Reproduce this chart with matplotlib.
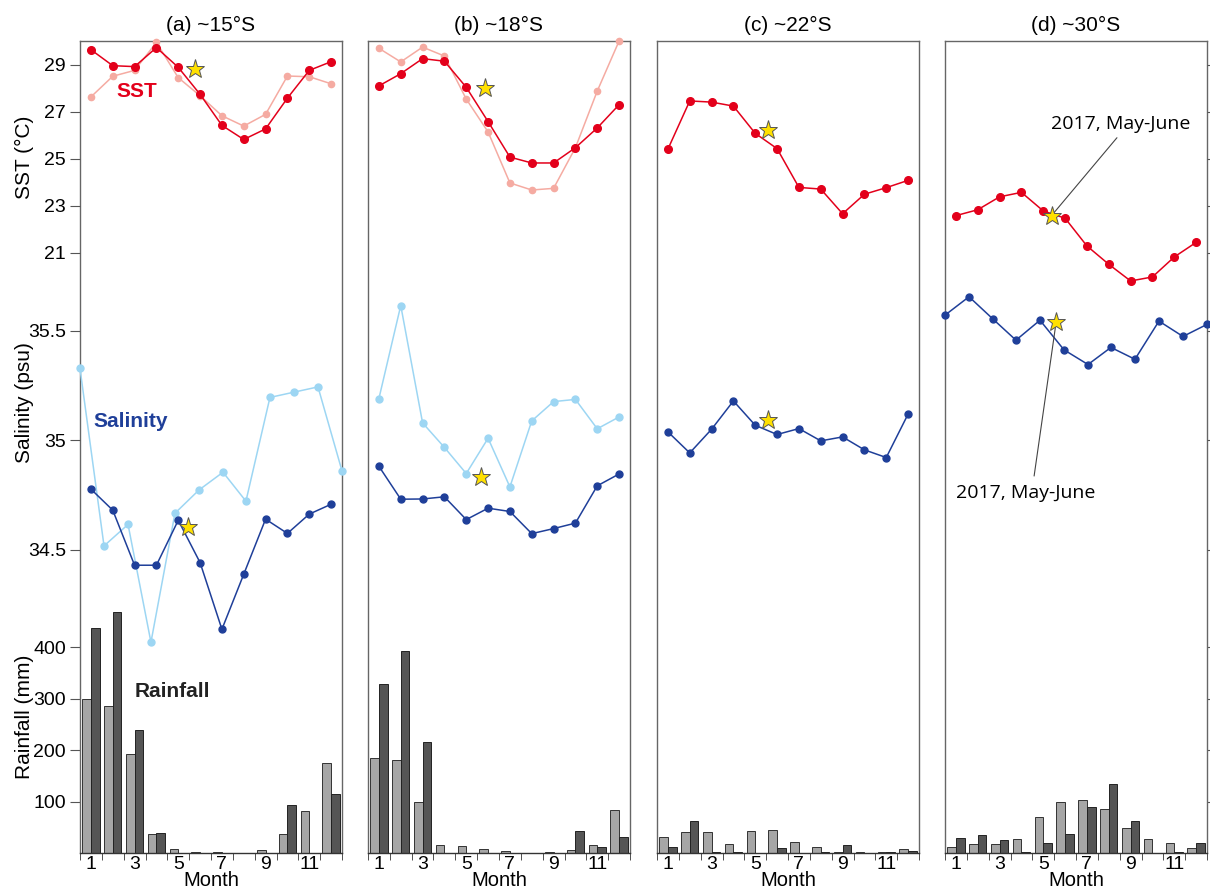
import numpy as np
import matplotlib.pyplot as plt

plt.rcParams['font.family'] = ['Liberation Sans', 'DejaVu Sans']

months = np.arange(1, 13)
# light salinity curves in (a) and (d) are stretched across the whole panel
months_wide = [0.5, 1.6, 2.7, 3.75, 4.85, 5.95, 7.05, 8.1, 9.2, 10.3, 11.4, 12.5]
titles = ['(a) ~15°S', '(b) ~18°S', '(c) ~22°S', '(d) ~30°S']

# SST (°C)
sst_a = [29.63, 28.95, 28.91, 29.72, 28.88, 27.73, 26.41, 25.81, 26.26, 27.57, 28.75, 29.12]
sst_a_light = [27.62, 28.5, 28.75, 29.94, 28.44, 27.67, 26.82, 26.38, 26.88, 28.51, 28.48, 28.18]
sst_b = [28.09, 28.61, 29.25, 29.14, 28.03, 26.57, 25.06, 24.81, 24.81, 25.46, 26.3, 27.29]
sst_b_light = [29.69, 29.11, 29.74, 29.36, 27.53, 26.13, 23.96, 23.66, 23.73, 25.46, 27.87, 30.0]
sst_c = [25.4, 27.45, 27.4, 27.23, 26.07, 25.42, 23.77, 23.7, 22.65, 23.48, 23.76, 24.07]
sst_d = [22.57, 22.82, 23.37, 23.56, 22.77, 22.46, 21.28, 20.5, 19.79, 19.96, 20.81, 21.43]

# Salinity (psu)
sal_a = [34.777, 34.681, 34.43, 34.43, 34.635, 34.442, 34.138, 34.389, 34.64, 34.575, 34.663, 34.708]
sal_a_light = [35.327, 34.518, 34.616, 34.079, 34.667, 34.773, 34.854, 34.722, 35.195, 35.219, 35.243, 34.86]
sal_b = [34.881, 34.731, 34.732, 34.742, 34.638, 34.69, 34.675, 34.574, 34.597, 34.622, 34.792, 34.846]
sal_b_light = [35.19, 35.614, 35.079, 34.967, 34.848, 35.009, 34.787, 35.088, 35.176, 35.186, 35.052, 35.106]
sal_c = [35.038, 34.942, 35.05, 35.179, 35.068, 35.026, 35.053, 34.997, 35.015, 34.956, 34.921, 35.119]
sal_d = [35.57, 35.654, 35.552, 35.456, 35.547, 35.412, 35.345, 35.423, 35.369, 35.543, 35.473, 35.528]

# Rainfall (mm)
rain_a_light = [300, 286, 192, 36, 8, 2, 2, 0, 5, 36, 82, 174]
rain_a_dark = [437, 468, 238, 39, 0, 0, 0, 0, 0, 94, 0, 115]
rain_b_light = [184, 181, 100, 16, 14, 8, 4, 0, 2, 5, 16, 84]
rain_b_dark = [328, 393, 215, 0, 0, 0, 0, 0, 0, 43, 11, 31]
rain_c_light = [31, 41, 41, 18, 43, 44, 22, 12, 2, 2, 2, 7]
rain_c_dark = [11, 62, 2, 2, 0, 10, 0, 2, 16, 0, 2, 4]
rain_d_light = [11, 17, 18, 27, 69, 100, 103, 86, 49, 27, 19, 9]
rain_d_dark = [30, 34, 25, 1, 19, 36, 89, 134, 63, 0, 1, 19]

# 2017 May-June observations (stars)
star_month = [5.78, 5.86, 5.57, 5.38]
star_sst = [28.81, 28.01, 26.2, 22.57]
star_sal_month = [5.45, 5.66, 5.57, 5.59]
star_sal = [34.605, 34.831, 35.09, 35.538]

panels = [
    (sst_a, sst_a_light, sal_a, sal_a_light, rain_a_light, rain_a_dark),
    (sst_b, sst_b_light, sal_b, sal_b_light, rain_b_light, rain_b_dark),
    (sst_c, None, sal_c, None, rain_c_light, rain_c_dark),
    (sst_d, None, sal_d, None, rain_d_light, rain_d_dark),
]

red = '#e3001b'
red_light = '#f5aba2'
blue = '#1f3f99'
blue_light = '#9dd6f3'

W, H = 1210, 894
fig = plt.figure(figsize=(W / 100, H / 100), dpi=100)

lefts = [80, 368, 657, 945]
for i, (sst, sst_l, sal, sal_l, r_light, r_dark) in enumerate(panels):
    rect = [lefts[i] / W, 1 - 853 / H, 262 / W, 812 / H]
    ax_r = fig.add_axes(rect, label='rain%d' % i)
    ax_s = fig.add_axes(rect, label='sal%d' % i, sharex=ax_r)
    ax_t = fig.add_axes(rect, label='sst%d' % i, sharex=ax_r)

    # rainfall bars
    ax_r.bar(months - 0.2, r_light, width=0.4, color='#a6a6a6', edgecolor='#333333', linewidth=0.7)
    ax_r.bar(months + 0.2, r_dark, width=0.4, color='#555555', edgecolor='#222222', linewidth=0.7)
    ax_r.set_ylim(0, 1577)
    ax_r.set_xlim(0.5, 12.5)

    # salinity
    if sal_l is not None:
        xs = months_wide if i == 0 else months
        ax_s.plot(xs, sal_l, '-o', color=blue_light, lw=1.1, ms=5, clip_on=False)
    xs = months_wide if i == 3 else months
    ax_s.plot(xs, sal, '-o', color=blue, lw=1.1, ms=5, clip_on=False)
    ax_s.plot(star_sal_month[i], star_sal[i], marker='*', ms=14, color='#ffe000',
              markeredgecolor='#555555', markeredgewidth=0.7, clip_on=False)
    ax_s.set_ylim(33.118, 36.82)

    # SST
    if sst_l is not None:
        ax_t.plot(months, sst_l, '-o', color=red_light, lw=1.1, ms=4.5, clip_on=False)
    ax_t.plot(months, sst, '-o', color=red, lw=1.1, ms=5.5, clip_on=False)
    ax_t.plot(star_month[i], star_sst[i], marker='*', ms=14, color='#ffe000',
              markeredgecolor='#555555', markeredgewidth=0.7, clip_on=False, zorder=5)
    ax_t.set_ylim(-4.55, 30)

    for ax in (ax_s, ax_t):
        ax.patch.set_visible(False)
        for sp in ax.spines.values():
            sp.set_visible(False)
        ax.xaxis.set_visible(False)

    for sp in ax_r.spines.values():
        sp.set_color('#666666')
        sp.set_linewidth(1.0)
    ax_r.spines['bottom'].set_color('#333333')

    ax_r.set_xticks([1, 3, 5, 7, 9, 11])
    ax_r.set_xticks(np.arange(0.5, 12.6, 1), minor=True)
    ax_r.tick_params(axis='x', which='major', length=0, labelsize=14, pad=2)
    ax_r.tick_params(axis='x', which='minor', length=5, direction='out', color='#333333')
    ax_r.set_xlabel('Month', fontsize=14.5, labelpad=-1)
    ax_r.set_title(titles[i], fontsize=15, pad=7)

    ax_t.set_yticks([21, 23, 25, 27, 29])
    ax_s.set_yticks([34.5, 35, 35.5])
    ax_s.set_yticklabels(['34.5', '35', '35.5'])
    ax_r.set_yticks([100, 200, 300, 400])

    for ax in (ax_r, ax_s, ax_t):
        if i == 0:
            ax.tick_params(axis='y', left=True, right=False, labelleft=True, labelright=False,
                           length=7, labelsize=14, color='#555555', pad=3)
        elif i == 3:
            ax.tick_params(axis='y', left=False, right=True, labelleft=False, labelright=False,
                           length=5, color='#555555')
        else:
            ax.tick_params(axis='y', left=False, right=False, labelleft=False, labelright=False)

    if i == 0:
        ax_t.text(0.217, 0.938, 'SST', transform=ax_t.transAxes, color=red,
                  fontsize=15, fontweight='bold', ha='center', va='center')
        ax_t.text(0.193, 0.531, 'Salinity', transform=ax_t.transAxes, color=blue,
                  fontsize=15, fontweight='bold', ha='center', va='center')
        ax_t.text(0.353, 0.199, 'Rainfall', transform=ax_t.transAxes, color='#222222',
                  fontsize=15, fontweight='bold', ha='center', va='center')
    if i == 3:
        ax_t.annotate('2017, May-June', xy=(star_month[i], star_sst[i]),
                      xytext=(0.672, 0.898), textcoords='axes fraction',
                      fontsize=14, family=['Open Sans', 'DejaVu Sans'],
                      ha='center', va='center',
                      arrowprops=dict(arrowstyle='-', color='#444444', lw=0.8,
                                      relpos=(0.5, 0), shrinkA=2, shrinkB=3))
        ax_s.annotate('2017, May-June', xy=(star_sal_month[i], star_sal[i]),
                      xytext=(0.309, 0.443), textcoords='axes fraction',
                      fontsize=14, family=['Open Sans', 'DejaVu Sans'],
                      ha='center', va='center',
                      arrowprops=dict(arrowstyle='-', color='#444444', lw=0.8,
                                      relpos=(0.55, 1), shrinkA=4, shrinkB=4))

fig.text(24 / W, 1 - 157 / H, 'SST (°C)', rotation=90, ha='center', va='center', fontsize=15)
fig.text(24 / W, 1 - 403 / H, 'Salinity (psu)', rotation=90, ha='center', va='center', fontsize=15)
fig.text(24 / W, 1 - 717 / H, 'Rainfall (mm)', rotation=90, ha='center', va='center', fontsize=15)

fig.savefig('out.png', dpi=100)
